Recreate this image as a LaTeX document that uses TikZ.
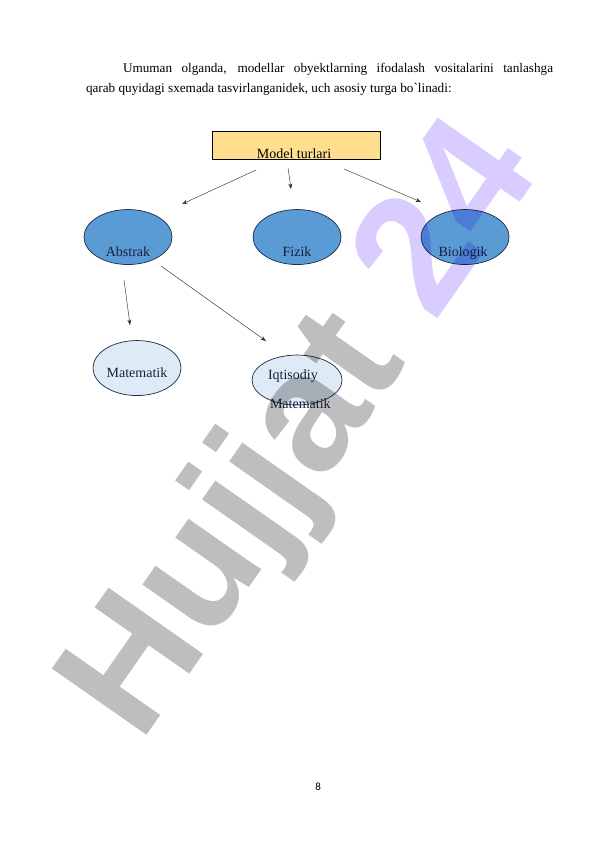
\documentclass[tikz,border=0pt]{standalone}
\usepackage{fontspec}
\setmainfont{Liberation Serif}
\newfontfamily\wmfont{Liberation Sans}
\newfontfamily\pgfont{Carlito}
\usetikzlibrary{shapes.geometric,arrows.meta}
\definecolor{boxfill}{HTML}{FFDF8E}
\definecolor{darkblue}{HTML}{5B9BD5}
\definecolor{lightblue}{HTML}{DEEAF6}
\definecolor{ellline}{HTML}{1F2A44}
\definecolor{lbltext}{HTML}{14213D}
\definecolor{wmgray}{HTML}{BEBEBE}
\definecolor{wmlav}{HTML}{D9CCFF}
\begin{document}
\begin{tikzpicture}[x=1pt,y=-1pt,
  every node/.style={inner sep=0pt, outer sep=0pt},
  bodytext/.style={font=\fontsize{13.2}{15}\selectfont, anchor=base west},
  lbl/.style={font=\fontsize{14}{16}\selectfont, text=lbltext, anchor=base},
  topell/.style={ellipse, draw=ellline, line width=0.7pt, fill=darkblue, minimum width=88pt, minimum height=55pt},
  lowell/.style={ellipse, draw=ellline, line width=0.7pt, fill=lightblue, minimum width=88pt, minimum height=55pt},
  conn/.style={draw=black!80, line width=0.45pt, -{Stealth[length=5.5pt,width=4pt]}}
]
\useasboundingbox (0,0) rectangle (595.3,841.9);
\fill[white] (0,0) rectangle (595.3,841.9);

% paragraph
\node[bodytext] (p1) at (123,72) {\makebox[430pt][s]{Umuman olganda, modellar obyektlarning ifodalash vositalarini tanlashga}};
\node[bodytext] (p2) at (86,92) {qarab quyidagi sxemada tasvirlanganidek, uch asosiy turga bo\textasciigrave linadi:};

% top box
\node[rectangle, draw=black, line width=0.7pt, fill=boxfill, minimum width=168pt, minimum height=28pt] (mt) at (296,145) {};
\node[lbl, text=black] (mtl) at (294,158) {Model turlari};

% ellipses
\node[topell] (abs) at (128,237) {};
\node[lbl] (absl) at (128,256) {Abstrak};
\node[topell] (fiz) at (297,237) {};
\node[lbl] (fizl) at (297,256) {Fizik};
\node[topell] (bio) at (465,237) {};
\node[lbl] (biol) at (463,256) {Biologik};
\node[lowell] (mat) at (137,368) {};
\node[lbl] (matl) at (137,377) {Matematik};
\node[lowell, minimum width=90pt, minimum height=50pt] (iqt) at (297,380) {};
\node[lbl, anchor=base west] (iqtl1) at (268,379) {Iqtisodiy};
\node[lbl, anchor=base west] (iqtl2) at (270,408) {Matematik};

% connector endpoints
\coordinate (s1) at (256,170); \coordinate (e1) at (182,204);
\coordinate (s2) at (288,168); \coordinate (e2) at (291,189);
\coordinate (s3) at (344,169); \coordinate (e3) at (421,202);
\coordinate (s4) at (124,280); \coordinate (e4) at (130,325);
\coordinate (s5) at (161,266); \coordinate (e5) at (266,341);
\draw[conn] (s1) -- (e1);
\draw[conn] (s2) -- (e2);
\draw[conn] (s3) -- (e3);
\draw[conn] (s4) -- (e4);
\draw[conn] (s5) -- (e5);

% page number
\node[font=\pgfont\fontsize{11}{12}\selectfont, anchor=base] (pg) at (318,790) {8};

% watermark
\begin{scope}[blend mode=multiply]
\node[font=\wmfont\bfseries\fontsize{168}{168}\selectfont, anchor=base west, rotate=55] (wm) at (140,744) {\textcolor{wmgray}{Hujjat} \textcolor{wmlav}{24}};
\end{scope}
\end{tikzpicture}
\end{document}
